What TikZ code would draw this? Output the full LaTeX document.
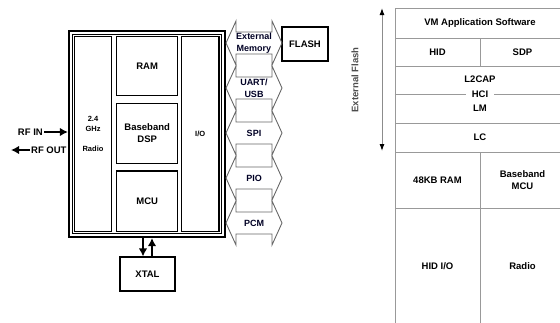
\documentclass[tikz,border=0pt]{standalone}
\usepackage{fontspec}
\setmainfont{Liberation Sans}
\usetikzlibrary{arrows.meta, positioning}
\tikzset{
    chipdiagram/.style={x=1pt, y=-1pt, >={Latex[length=8pt,width=8.5pt]},
        font=\bfseries\fontsize{9.5}{12}\selectfont},
    unit/.style={draw, line width=1.1pt, inner sep=0pt, align=center},
    smallunit/.style={unit, font=\bfseries\fontsize{7.5}{10}\selectfont},
    % double-headed bus arrow, 56 long, shaft 22, heads 44
    bus/.pic={
        \draw[black!60, line width=0.9pt] (-28,0) -- (-18,-22) -- (-18,-11) -- (18,-11) -- (18,-22)
            -- (28,0) -- (18,22) -- (18,11) -- (-18,11) -- (-18,22) -- cycle;
    },
    buslabel/.style={text=black!80!blue!70!black, align=center, inner sep=0pt,
        font=\bfseries\fontsize{9}{12}\selectfont},
    sig/.style={->, line width=1.5pt},
    cell/.style={draw=black!40, line width=0.8pt, inner sep=0pt, align=center},
}

\begin{document}
\begin{tikzpicture}[chipdiagram]
        \useasboundingbox (0,0) rectangle (560,322);
        \clip (0,0) rectangle (560,322);

        % chip with its units
        \node[draw, line width=2.2pt, minimum width=156pt, minimum height=206pt] (chip) at (147,134) {};
        \node[draw, line width=0.8pt, minimum width=149pt, minimum height=199pt] (core) at (147,134) {};
        \node[smallunit, minimum width=37pt, minimum height=195pt] (radio) at (93,134) {2.4\\GHz\\[10pt]Radio};
        \node[unit, minimum width=61pt, minimum height=59pt]   (ram)   at (147.2,66)  {RAM};
        \node[unit, minimum width=61pt, minimum height=60pt]   (dsp)   at (147.2,133.3) {Baseband\\DSP};
        \node[unit, minimum width=61pt, minimum height=60.5pt] (mcu)   at (147.2,201.2) {MCU};
        \node[smallunit, minimum width=37.5pt, minimum height=195pt] (io) at (200.2,134) {I/O};

        \node[unit, minimum width=55pt, minimum height=34pt] (xtal)  at (147.5,274) {XTAL};
        \node[unit, minimum width=46pt, minimum height=34pt] (flash) at (305,44) {FLASH};

        % RF in and out
        \node[anchor=east, inner sep=1pt] (rfin)  at (44,132) {RF IN};
        \node[anchor=west, inner sep=1pt] (rfout) at (30,150) {RF OUT};
        \coordinate (rfend) at (11,150);
        \draw[sig] (rfin.east) -- (rfin.east -| chip.west);
        \draw[sig] (rfout.west) -- (rfend);

        % crystal
        \draw[sig] ([xshift=-4pt]chip.south) -- ([xshift=-4.5pt]xtal.north);
        \draw[sig] ([xshift=4.5pt]xtal.north) -- ([xshift=5pt]chip.south);

        % interface buses
        \pic at (254,43)  {bus};
        \pic at (254,88)  {bus};
        \pic at (254,133) {bus};
        \pic at (254,178) {bus};
        \pic at (254,223) {bus};
        \node[buslabel] (extmem) at (254,43)  {External\\Memory};
        \node[buslabel] (uart)   at (254,88)  {UART/\\USB};
        \node[buslabel] (spi)    at (254,133) {SPI};
        \node[buslabel] (pio)    at (254,178) {PIO};
        \node[buslabel] (pcm)    at (254,223) {PCM};

        % software stack
        \node[cell, minimum width=170pt, minimum height=30pt] (vm)    at (480,23)    {VM Application Software};
        \node[cell, minimum width=85pt,  minimum height=28pt] (hid)   at (437.5,52)  {HID};
        \node[cell, minimum width=85pt,  minimum height=28pt] (sdp)   at (522.5,52)  {SDP};
        \node[cell, minimum width=170pt, minimum height=57pt] (host)  at (480,94.5)  {};
        \node[cell, minimum width=170pt, minimum height=29pt] (lc)    at (480,137.5) {LC};
        \node[cell, minimum width=85pt,  minimum height=56pt] (ram48) at (437.5,180) {48KB RAM};
        \node[cell, minimum width=85pt,  minimum height=56pt] (bbmcu) at (522.5,180) {Baseband\\MCU};
        \node[cell, minimum width=85pt,  minimum height=116pt] (hidio) at (437.5,266) {HID I/O};
        \node[cell, minimum width=85pt,  minimum height=116pt] (rad)   at (522.5,266) {Radio};
        \draw[black!40, line width=0.8pt] (host.west) -- (host.east);
        \node[inner sep=0pt] (l2cap) at (480,79)  {L2CAP};
        \node[fill=white, inner xsep=6pt, inner ysep=1pt] (hci) at (480,94.5) {HCI};
        \node[inner sep=0pt] (lm)    at (480,108) {LM};

        % flash span
        \coordinate (flashtop) at (382,8);
        \coordinate (flashbot) at (382,151);
        \draw[black!45, line width=1pt, {Latex[black,length=7pt,width=5pt]}-{Latex[black,length=7pt,width=5pt]}] (flashtop) -- (flashbot);
        \node[rotate=90, text=black!70] (flashlbl) at (355,80) {External Flash};
    \end{tikzpicture}
\end{document}
